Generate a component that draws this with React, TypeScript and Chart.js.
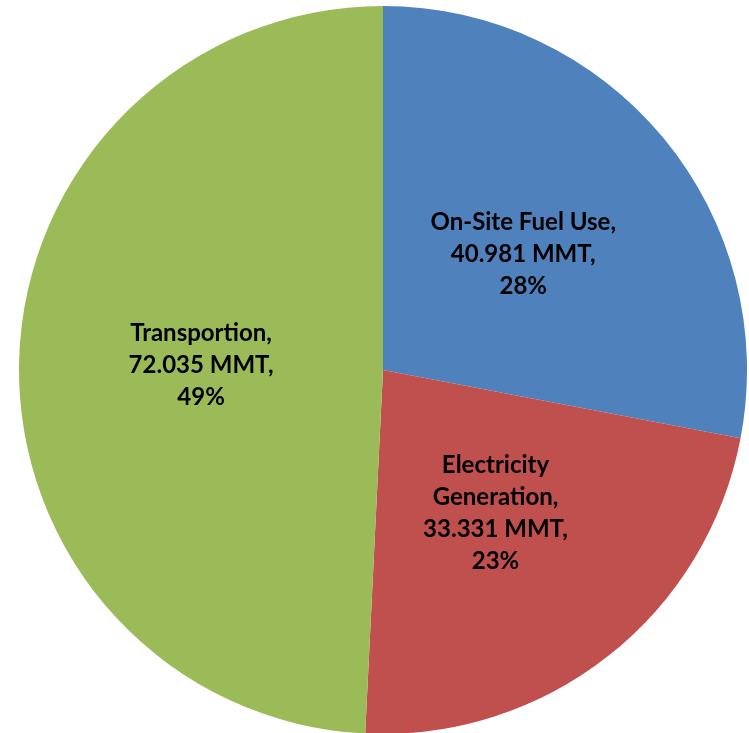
import React, { useEffect, useRef } from "react";
import { Chart, registerables } from "chart.js";

Chart.register(...registerables);

const categories = ["On-Site Fuel Use", "Electricity Generation", "Transportion"];
const categoryLines = [["On-Site Fuel Use,"], ["Electricity", "Generation,"], ["Transportion,"]];
const values = [40.981, 33.331, 72.035];
const colors = ["#4F81BD", "#C0504D", "#9BBB59"];
const unit = "MMT";

const labelPlugin = {
  id: "sliceLabels",
  afterDatasetsDraw(chart: any) {
    const ctx = chart.ctx;
    const meta = chart.getDatasetMeta(0);
    const ds = chart.data.datasets[0].data as number[];
    const total = ds.reduce((a, b) => a + b, 0);
    ctx.save();
    ctx.fillStyle = "#000";
    ctx.font = "bold 24px Lato";
    ctx.textAlign = "center";
    ctx.textBaseline = "middle";
    const lh = 32;
    meta.data.forEach((arc: any, i: number) => {
      const p = arc.getProps(["startAngle", "endAngle", "outerRadius", "x", "y"], true);
      const mid = (p.startAngle + p.endAngle) / 2;
      const r = p.outerRadius * 0.5;
      const cx = p.x + Math.cos(mid) * r;
      const cy = p.y + Math.sin(mid) * r;
      const lines = [
        ...categoryLines[i],
        ds[i].toFixed(3) + " " + unit + ",",
        Math.round((ds[i] / total) * 100) + "%",
      ];
      const start = cy - ((lines.length - 1) * lh) / 2;
      lines.forEach((t, j) => ctx.fillText(t, cx, start + j * lh));
    });
    ctx.restore();
  },
};

export default function App() {
  const ref = useRef<HTMLCanvasElement>(null);
  useEffect(() => {
    const chart = new Chart(ref.current!, {
      type: "pie",
      data: {
        labels: categories,
        datasets: [
          {
            data: values,
            backgroundColor: colors,
            borderWidth: 0,
          },
        ],
      },
      options: {
        animation: false,
        responsive: false,
        maintainAspectRatio: false,
        layout: { padding: 0 },
        plugins: {
          legend: { display: false },
          tooltip: { enabled: false },
        },
      },
      plugins: [labelPlugin],
    });
    return () => chart.destroy();
  }, []);
  return (
    <div
      style={{
        position: "fixed",
        left: 0,
        top: 0,
        width: 749,
        height: 733,
        overflow: "hidden",
        background: "#fff",
      }}
    >
      <canvas
        ref={ref}
        width={728}
        height={728}
        style={{ position: "absolute", left: 19, top: 6, width: 728, height: 728 }}
      />
    </div>
  );
}
